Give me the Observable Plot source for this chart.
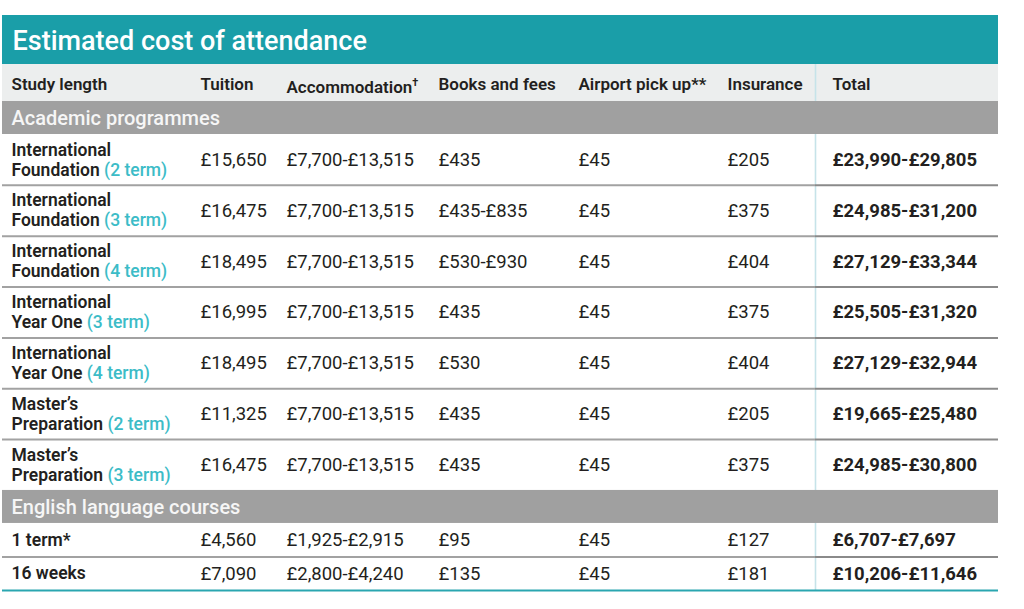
<!DOCTYPE html>
<html><head><meta charset="utf-8">
<script src="https://cdn.jsdelivr.net/npm/d3@7"></script>
<script src="https://cdn.jsdelivr.net/npm/@observablehq/plot@0.6"></script>
<style>
html,body{margin:0;padding:0;background:#fff;}
#chart svg{display:block;}
</style></head><body><div id="chart"></div>
<script>
// ---------- data ----------
const title = "Estimated cost of attendance";
const headers = ["Study length", "Tuition", "Accommodation†", "Books and fees", "Airport pick up**", "Insurance", "Total"];
const sections = ["Academic programmes", "English language courses"];
const rowSection = [0, 0, 0, 0, 0, 0, 0, 1, 1];
const studyLine1 = ["International", "International", "International", "International", "International", "Master’s", "Master’s", "1 term*", "16 weeks"];
const studyLine2 = ["Foundation", "Foundation", "Foundation", "Year One", "Year One", "Preparation", "Preparation", null, null];
const studyTerm = ["(2 term)", "(3 term)", "(4 term)", "(3 term)", "(4 term)", "(2 term)", "(3 term)", null, null];
const tuition = ["£15,650", "£16,475", "£18,495", "£16,995", "£18,495", "£11,325", "£16,475", "£4,560", "£7,090"];
const accommodation = ["£7,700-£13,515", "£7,700-£13,515", "£7,700-£13,515", "£7,700-£13,515", "£7,700-£13,515", "£7,700-£13,515", "£7,700-£13,515", "£1,925-£2,915", "£2,800-£4,240"];
const books = ["£435", "£435-£835", "£530-£930", "£435", "£530", "£435", "£435", "£95", "£135"];
const airport = ["£45", "£45", "£45", "£45", "£45", "£45", "£45", "£45", "£45"];
const insurance = ["£205", "£375", "£404", "£375", "£404", "£205", "£375", "£127", "£181"];
const total = ["£23,990-£29,805", "£24,985-£31,200", "£27,129-£33,344", "£25,505-£31,320", "£27,129-£32,944", "£19,665-£25,480", "£24,985-£30,800", "£6,707-£7,697", "£10,206-£11,646"];

// ---------- layout ----------
const W = 1024, H = 609;
const tableLeft = 2, tableRight = 998, dividerX = 815;
const colX = [11, 200, 286, 438, 578, 727, 832];
const titleTop = 15, titleH = 49, headerH = 37, sectionH = 33, tallRowH = 50.85, shortRowH = 33.5;
const FONT = "Roboto, 'Noto Sans', sans-serif";
const C = {teal: "#1a9ea8", header: "#eceeee", section: "#a0a0a0", text: "#231f20", term: "#3cbcc7", rule: "#a2a2a2", ruleR: "#8a8a8a", divider: "#c6e3e9", bottom: "#2aa6b0"};

let y = titleTop;
const titleBand = {y1: y, y2: y + titleH}; y += titleH;
const headerBand = {y1: y, y2: y + headerH}; y += headerH;
const sectionBands = [], rows = [], seps = [];
let prevSection = -1;
for (let i = 0; i < rowSection.length; i++) {
  if (rowSection[i] !== prevSection) {
    sectionBands.push({y1: y, y2: y + sectionH, label: sections[rowSection[i]]});
    y += sectionH; prevSection = rowSection[i];
  } else {
    seps.push(y);
  }
  const h = studyLine2[i] ? tallRowH : shortRowH;
  rows.push({i, y1: y, y2: y + h, cy: y + h / 2});
  y += h;
}
const tableBottom = y;

const values = [tuition, accommodation, books, airport, insurance, total];
const cells = [];
rows.forEach(r => values.forEach((arr, c) => cells.push({x: colX[c + 1], y: r.cy, text: arr[r.i], bold: c === 5})));
const study1 = rows.map(r => ({x: colX[0], y: studyLine2[r.i] ? r.cy - 10 : r.cy, text: studyLine1[r.i]}));
const study2 = rows.filter(r => studyLine2[r.i]).map(r => ({x: colX[0], y: r.cy + 10, text: studyLine2[r.i] + " " + studyTerm[r.i]}));
const headerCells = headers.map((h, c) => ({x: colX[c], y: (headerBand.y1 + headerBand.y2) / 2 + 2, text: h}));

const sepLeft = seps.map(s => ({y: s, x1: tableLeft, x2: dividerX}));
const sepRight = seps.map(s => ({y: s, x1: dividerX, x2: tableRight}));

const plot = Plot.plot({
  width: W, height: H, margin: 0,
  x: {type: "linear", domain: [0, W], range: [0, W], axis: null},
  y: {type: "linear", domain: [0, H], range: [0, H], axis: null},
  style: {fontFamily: FONT, background: "#fff"},
  marks: [
    Plot.rect([titleBand], {x1: () => tableLeft, x2: () => tableRight, y1: "y1", y2: "y2", fill: C.teal}),
    Plot.rect([headerBand], {x1: () => tableLeft, x2: () => tableRight, y1: "y1", y2: "y2", fill: C.header}),
    Plot.ruleX([dividerX], {y1: () => headerBand.y1, y2: () => tableBottom, stroke: C.divider, strokeWidth: 1.6}),
    Plot.rect(sectionBands, {x1: () => tableLeft, x2: () => tableRight, y1: "y1", y2: "y2", fill: C.section}),
    Plot.ruleY(sepLeft, {y: "y", x1: "x1", x2: "x2", stroke: C.rule, strokeWidth: 2}),
    Plot.ruleY(sepRight, {y: "y", x1: "x1", x2: "x2", stroke: C.ruleR, strokeWidth: 2}),
    Plot.ruleY([tableBottom], {x1: () => tableLeft, x2: () => tableRight, stroke: C.bottom, strokeWidth: 2}),
    Plot.text([titleBand], {x: () => 12, y: d => (d.y1 + d.y2) / 2 + 1, text: () => title, textAnchor: "start", fill: "#fff", fontSize: 27, fontWeight: 500}),
    Plot.text(sectionBands, {x: () => colX[0], y: d => (d.y1 + d.y2) / 2 + 1, text: "label", textAnchor: "start", fill: "#f6f6f6", fontSize: 20, fontWeight: 500}),
    Plot.text(headerCells, {x: "x", y: "y", text: "text", textAnchor: "start", fill: C.text, fontSize: 17, fontWeight: 600}),
    Plot.text(study1, {x: "x", y: "y", text: "text", textAnchor: "start", fill: C.text, fontSize: 17.5, fontWeight: 600}),
    Plot.text(study2, {x: "x", y: "y", text: "text", textAnchor: "start", fill: C.text, fontSize: 17.5, fontWeight: 600}),
    Plot.text(cells.filter(d => !d.bold), {x: "x", y: "y", text: "text", textAnchor: "start", fill: C.text, fontSize: 18.5, fontWeight: 400}),
    Plot.text(cells.filter(d => d.bold), {x: "x", y: "y", text: "text", textAnchor: "start", fill: C.text, fontSize: 18.5, fontWeight: 700})
  ]
});

// colour the "(n term)" part and superscript the dagger
d3.select(plot).selectAll("text").each(function () {
  const t = this.textContent;
  const el = d3.select(this);
  if (/\(\d term\)$/.test(t)) {
    const k = t.indexOf("(");
    el.text(null);
    el.append("tspan").text(t.slice(0, k));
    el.append("tspan").attr("fill", C.term).attr("font-weight", 500).text(t.slice(k));
  } else if (t.endsWith("†")) {
    el.text(null);
    el.append("tspan").attr("dy", "0.15em").text(t.slice(0, -1));
    el.append("tspan").attr("dy", "-0.6em").attr("font-size", 11).text("†");
  }
});
document.getElementById("chart").appendChild(plot);
</script></body></html>
